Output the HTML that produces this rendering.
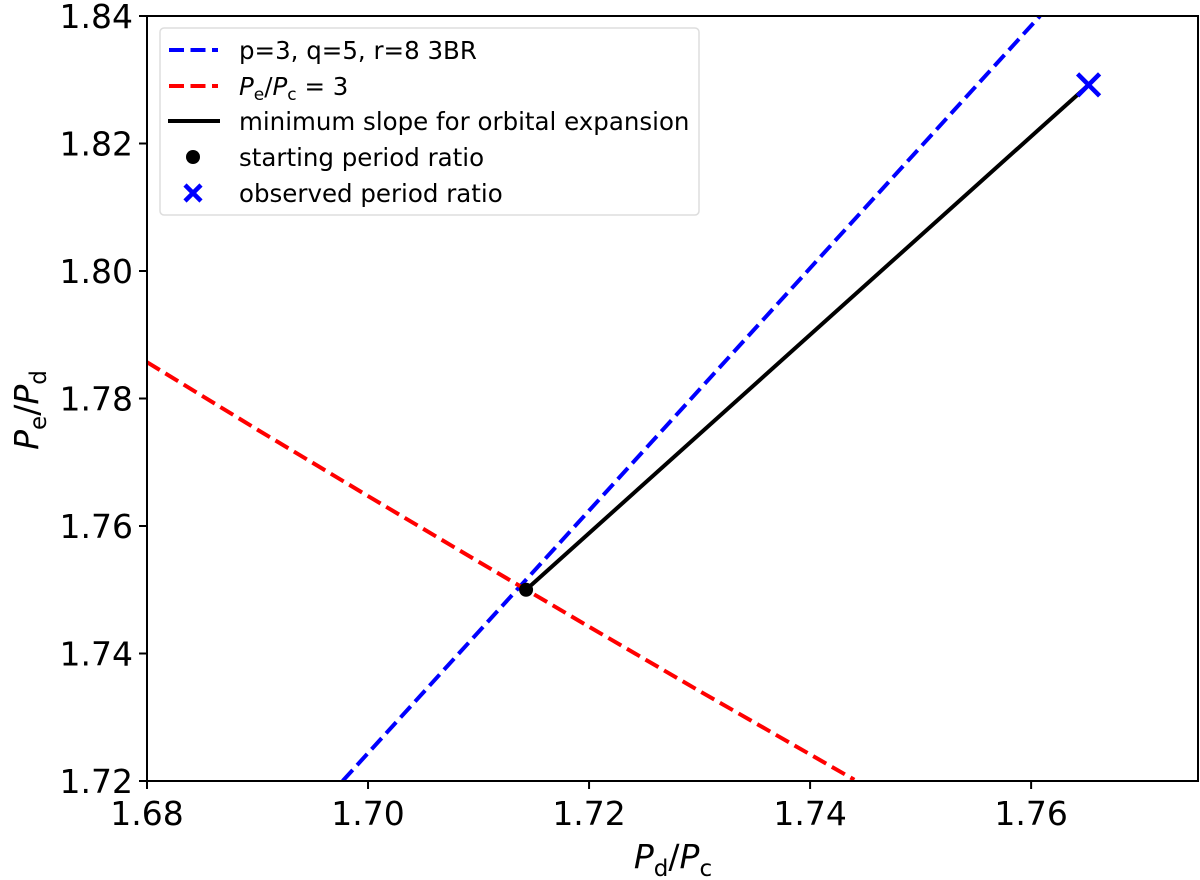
<!DOCTYPE html>
<html><head><meta charset="utf-8"><style>
html,body{margin:0;padding:0;background:#fff;}
svg{display:block;font-family:"DejaVu Sans","Liberation Sans",sans-serif;}
</style></head><body>
<svg id="chart" width="1200" height="880" xmlns="http://www.w3.org/2000/svg"></svg>
<script>
const xTicks=[1.68,1.70,1.72,1.74,1.76];
const yTicks=[1.72,1.74,1.76,1.78,1.80,1.82,1.84];
const xTickLabels=["1.68","1.70","1.72","1.74","1.76"];
const yTickLabels=["1.72","1.74","1.76","1.78","1.80","1.82","1.84"];
const blueX=[1.6977,1.7608];
const blueY=[1.72,1.84];
const redX=[1.68,1.69,1.70,1.71,1.72,1.73,1.744];
const redY=[1.7857,1.7751,1.7647,1.7544,1.7442,1.7341,1.7202];
const blackX=[1.7143,1.7652];
const blackY=[1.75,1.8292];
const startX=[1.7143], startY=[1.75];
const obsX=[1.7652], obsY=[1.8292];

const L=147,R=1198,T=16,B=781;
const xMin=1.68,xMax=1.7751,yMin=1.72,yMax=1.84;
const sx=v=>L+(v-xMin)/(xMax-xMin)*(R-L);
const sy=v=>B-(v-yMin)/(yMax-yMin)*(B-T);
const svg=document.getElementById('chart');
const NS='http://www.w3.org/2000/svg';
function mk(tag,attrs,parent){const e=document.createElementNS(NS,tag);for(const k in attrs)e.setAttribute(k,attrs[k]);(parent||svg).appendChild(e);return e;}

const defs=mk('clipPath',{id:'clip'});mk('rect',{x:L,y:T,width:R-L,height:B-T},defs);
const g=mk('g',{'clip-path':'url(#clip)'});
function line(xs,ys,color,dash,name){
  const p=mk('polyline',{points:xs.map((x,i)=>sx(x)+','+sy(ys[i])).join(' '),fill:'none',stroke:color,'stroke-width':4,'stroke-dasharray':dash||''},g);
  
  
}
line(blueX,blueY,'#0000ff','15 6.5','three-body-resonance-line');
line(redX,redY,'#ff0000','15 6.5','period-ratio-3-line');
line(blackX,blackY,'#000','','minimum-slope-line');
startX.forEach((x,i)=>{const c=mk('circle',{cx:sx(x),cy:sy(startY[i]),r:7,fill:'#000'},g);

});
obsX.forEach((x,i)=>{const cx=sx(x),cy=sy(obsY[i]);const m=mk('path',{d:`M${cx-11},${cy-11}L${cx+11},${cy+11}M${cx-11},${cy+11}L${cx+11},${cy-11}`,stroke:'#0000ff','stroke-width':4.5,fill:'none'});

});

const frame=mk('rect',{x:L,y:T,width:R-L,height:B-T,fill:'none',stroke:'#000','stroke-width':2});



xTicks.forEach((v,i)=>{const x=sx(v);mk('line',{x1:x,x2:x,y1:B,y2:B+8,stroke:'#000','stroke-width':2});
const t=mk('text',{x:x,y:B+44,'text-anchor':'middle','font-size':33});t.textContent=xTickLabels[i];

});
yTicks.forEach((v,i)=>{const y=sy(v);mk('line',{x1:L-8,x2:L,y1:y,y2:y,stroke:'#000','stroke-width':2});
const t=mk('text',{x:L-14,y:y+12,'text-anchor':'end','font-size':33});t.textContent=yTickLabels[i];

});
</script>
<svg width="1200" height="880" style="position:absolute;left:0;top:0;font-family:'DejaVu Sans','Liberation Sans',sans-serif" xmlns="http://www.w3.org/2000/svg">
<text x="673" y="868" text-anchor="middle" font-size="33"><tspan font-style="italic">P</tspan><tspan font-size="23" dy="8">d</tspan><tspan dy="-8">/</tspan><tspan font-style="italic">P</tspan><tspan font-size="23" dy="8">c</tspan></text>
<text transform="translate(38,410) rotate(-90)" text-anchor="middle" font-size="33"><tspan font-style="italic">P</tspan><tspan font-size="23" dy="8">e</tspan><tspan dy="-8">/</tspan><tspan font-style="italic">P</tspan><tspan font-size="23" dy="8">d</tspan></text>
<g>
<rect x="160" y="28" width="539" height="187" rx="4" fill="#fff" stroke="#ddd" stroke-width="1.5"/>
<line x1="169" x2="218" y1="50" y2="50" stroke="#0000ff" stroke-width="4" stroke-dasharray="15 6.5"/>
<text x="239" y="59" font-size="24.5">p=3, q=5, r=8 3BR</text>
<line x1="169" x2="218" y1="86" y2="86" stroke="#ff0000" stroke-width="4" stroke-dasharray="15 6.5"/>
<text x="239" y="95" font-size="24.5"><tspan font-style="italic">P</tspan><tspan font-size="17" dy="5">e</tspan><tspan dy="-5">/</tspan><tspan font-style="italic">P</tspan><tspan font-size="17" dy="5">c</tspan><tspan dy="-5"> = 3</tspan></text>
<line x1="168" x2="220" y1="121" y2="121" stroke="#000" stroke-width="4"/>
<text x="239" y="130" font-size="24.5">minimum slope for orbital expansion</text>
<circle cx="193" cy="157" r="7" fill="#000"/>
<text x="239" y="166" font-size="24.5">starting period ratio</text>
<path d="M185,185L201,201M185,201L201,185" stroke="#0000ff" stroke-width="4.5"/>
<text x="239" y="202" font-size="24.5">observed period ratio</text>
</g>
</svg>
</body></html>
